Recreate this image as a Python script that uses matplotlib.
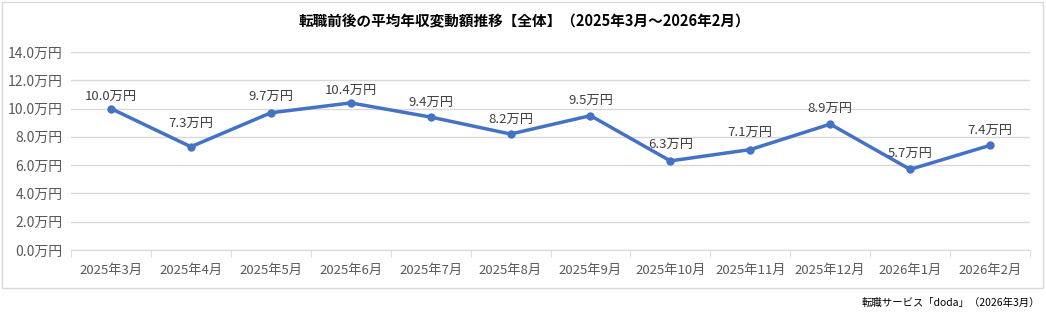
import matplotlib
matplotlib.use("Agg")
import matplotlib.pyplot as plt
from matplotlib.patches import Rectangle

plt.rcParams['font.family'] = ['Noto Sans CJK JP', 'DejaVu Sans']

categories = ["2025年3月", "2025年4月", "2025年5月", "2025年6月", "2025年7月", "2025年8月",
              "2025年9月", "2025年10月", "2025年11月", "2025年12月", "2026年1月", "2026年2月"]
values = [10.0, 7.3, 9.7, 10.4, 9.4, 8.2, 9.5, 6.3, 7.1, 8.9, 5.7, 7.4]
yticks = [0, 2, 4, 6, 8, 10, 12, 14]
title = "転職前後の平均年収変動額推移【全体】（2025年3月～2026年2月）"
source = "転職サービス「doda」（2026年3月）"

# label placement (pixels above each point), style only
label_dy_px = [12, 23, 16, 13, 15, 15, 15, 17, 17, 16, 16, 15]

W, H = 1046, 322
fig = plt.figure(figsize=(W / 100, H / 100), dpi=100)
fig.patch.set_facecolor('white')

# outer chart border
fig.patches.append(Rectangle((2 / W, 1 - 288 / H), 1041 / W, 286 / H, transform=fig.transFigure,
                             fill=False, edgecolor='#d9d9d9', linewidth=1.0))

ax = fig.add_axes([71 / W, 1 - 250 / H, (1030 - 71) / W, (250 - 52) / H])
x = list(range(len(categories)))
ax.plot(x, values, color='#4472C4', linewidth=2.5, marker='o', markersize=5, zorder=3)
for xi, v, dy in zip(x, values, label_dy_px):
    ax.annotate(f"{v:.1f}万円", (xi, v), xytext=(0, dy * 0.72), textcoords='offset points',
                ha='center', va='center', fontsize=9.5, color='#404040')

ax.set_xlim(-0.5, len(categories) - 0.5)
ax.set_ylim(0, 14)
ax.set_yticks(yticks)
ax.set_yticklabels([f"{t:.1f}万円" for t in yticks], fontsize=10, color='#595959')
ax.set_xticks(x)
ax.set_xticklabels(categories, fontsize=9.5, color='#595959')
ax.set_xticks([i - 0.5 for i in range(len(categories) + 1)], minor=True)
ax.tick_params(axis='x', which='major', length=0, pad=10)
ax.tick_params(axis='x', which='minor', length=5, color='#d9d9d9')
ax.tick_params(axis='y', length=0, pad=6)
ax.grid(axis='y', color='#d9d9d9', linewidth=1.0)
ax.set_axisbelow(True)
for s in ['top', 'right', 'left']:
    ax.spines[s].set_visible(False)
ax.spines['bottom'].set_color('#d9d9d9')

fig.text(524 / W, 1 - 21 / H, title, ha='center', va='center', fontsize=10.5, fontweight='bold', color='#000000')
fig.text(1040 / W, 1 - 303 / H, source, ha='right', va='center', fontsize=7.5, color='#000000')

fig.savefig("out.png", dpi=100)
